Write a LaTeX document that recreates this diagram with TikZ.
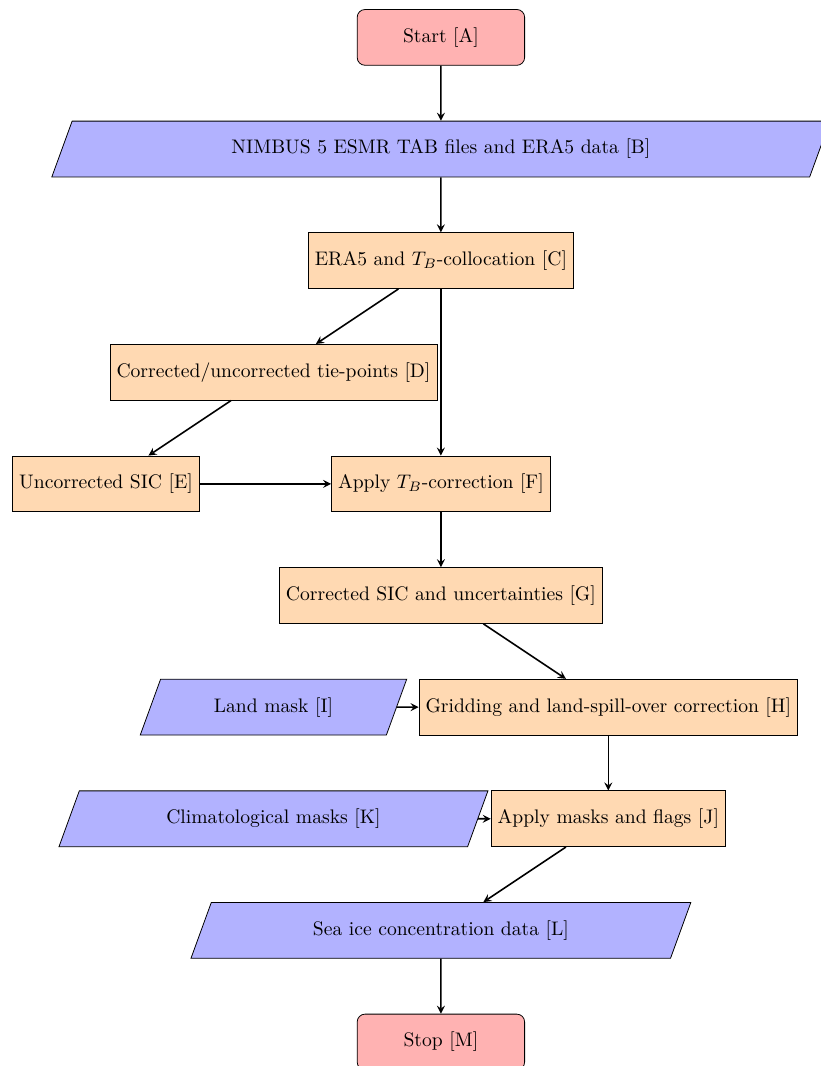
\documentclass[tikz,border=0pt]{standalone}
\usepackage{amsmath}
\usepackage{tikz}
\usetikzlibrary{shapes.geometric,arrows}
\usepackage{xcolor}

\begin{document}
\begin{tikzpicture}[
    startstop/.style={rectangle,rounded corners,minimum width=3cm,minimum height=1cm,text centered,draw=black,fill=red!30},
    io/.style={trapezium,trapezium left angle=70,trapezium right angle=110,minimum width=3cm,minimum height=1cm,text centered,draw=black,fill=blue!30},
    process/.style={rectangle,minimum width=3cm,minimum height=1cm,text centered,draw=black,fill=orange!30},
    arrow/.style={thick,->,>=stealth}]
    \useasboundingbox (-7.90,0.67) rectangle (6.80,-18.43);

    % Input
    \node[startstop] (start) at (0,0) {Start [A]};
    \node[io] (tbdata) at (0,-2) {NIMBUS 5 ESMR TAB files and ERA5 data [B]};
    \node[process] (colloc) at (0,-4) {ERA5 and $T_B$-collocation [C]};
    \node[process] (tiepts) at (-3,-6) {Corrected/uncorrected tie-points [D]};

    % Correction
    \node[process] (uncsic) at (-6,-8) {Uncorrected SIC [E]};
    \node[process] (tbcorr) at (0,-8) {Apply $T_B$-correction [F]};
    \node[process] (corsic) at (0,-10) {Corrected SIC and uncertainties [G]};

    % Gridding and masks
    \node[io] (landmask) at (-3,-12) {Land mask [I]};
    \node[process] (grid) at (3,-12) {Gridding and land-spill-over correction [H]};
    \node[io] (climmask) at (-3,-14) {Climatological masks [K]};
    \node[process] (masks) at (3,-14) {Apply masks and flags [J]};

    % Output
    \node[io] (sicdata) at (0,-16) {Sea ice concentration data [L]};
    \node[startstop] (stop) at (0,-18) {Stop [M]};

    % Arrows
    \draw[arrow] (start) -- (tbdata);
    \draw[arrow] (tbdata) -- (colloc);
    \draw[arrow] (colloc) -- (tiepts);
    \draw[arrow] (colloc) -- (tbcorr);
    \draw[arrow] (tiepts) -- (uncsic);
    \draw[arrow] (uncsic) -- (tbcorr);
    \draw[arrow] (tbcorr) -- (corsic);
    \draw[arrow] (corsic) -- (grid);
    \draw[arrow] (landmask) -- (grid);
    \draw[arrow] (grid) -- (masks);
    \draw[arrow] (climmask) -- (masks);
    \draw[arrow] (masks) -- (sicdata);
    \draw[arrow] (sicdata) -- (stop);
\end{tikzpicture}
\end{document}
